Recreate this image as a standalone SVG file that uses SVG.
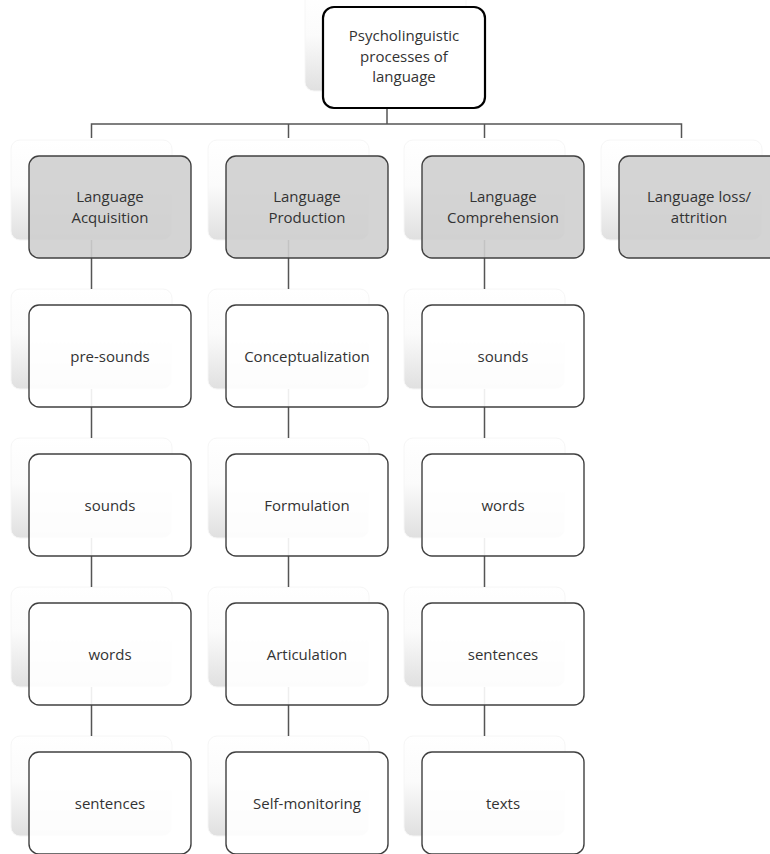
<svg xmlns="http://www.w3.org/2000/svg" width="770" height="854" viewBox="0 0 770 854">
<defs>
<linearGradient id="sh" x1="0" y1="0" x2="0" y2="1">
<stop offset="0" stop-color="#ffffff"/>
<stop offset="0.45" stop-color="#fbfbfb"/>
<stop offset="1" stop-color="#e0e0e0"/>
</linearGradient>
<style>
.shadow{fill:url(#sh);stroke:#f6f6f6;stroke-width:1}
.box{fill:#ffffff;fill-opacity:0.9;stroke:#404040;stroke-width:1.4}
.gray{fill:#cfcfcf;fill-opacity:0.9;stroke:#404040;stroke-width:1.4}
.top{fill:#ffffff;stroke:#000000;stroke-width:2.2}
.conn{stroke:#555555;stroke-width:1.5;fill:none}
text{font-family:"Open Sans","Liberation Sans",sans-serif;font-size:15px;fill:#333333;text-anchor:middle}
</style>
</defs>
<rect width="770" height="854" fill="#ffffff"/>

<g id="shadows">
<rect class="shadow" x="305" y="-9" width="161" height="100" rx="9"/>
<rect class="shadow" x="11" y="140" width="161" height="100" rx="9"/>
<rect class="shadow" x="208" y="140" width="161" height="100" rx="9"/>
<rect class="shadow" x="404" y="140" width="161" height="100" rx="9"/>
<rect class="shadow" x="601" y="140" width="161" height="100" rx="9"/>
<rect class="shadow" x="11" y="289" width="161" height="100" rx="9"/>
<rect class="shadow" x="208" y="289" width="161" height="100" rx="9"/>
<rect class="shadow" x="404" y="289" width="161" height="100" rx="9"/>
<rect class="shadow" x="11" y="438" width="161" height="100" rx="9"/>
<rect class="shadow" x="208" y="438" width="161" height="100" rx="9"/>
<rect class="shadow" x="404" y="438" width="161" height="100" rx="9"/>
<rect class="shadow" x="11" y="587" width="161" height="100" rx="9"/>
<rect class="shadow" x="208" y="587" width="161" height="100" rx="9"/>
<rect class="shadow" x="404" y="587" width="161" height="100" rx="9"/>
<rect class="shadow" x="11" y="736" width="161" height="100" rx="9"/>
<rect class="shadow" x="208" y="736" width="161" height="100" rx="9"/>
<rect class="shadow" x="404" y="736" width="161" height="100" rx="9"/>
</g>

<g id="connectors" class="conn">
<path d="M387 108V124"/>
<path d="M91.5 138V124H681.5V138"/>
<path d="M288.5 124V138"/>
<path d="M484.5 124V138"/>
<path d="M91.5 240V289M91.5 389V438M91.5 538V587M91.5 687V736"/>
<path d="M288.5 240V289M288.5 389V438M288.5 538V587M288.5 687V736"/>
<path d="M484.5 240V289M484.5 389V438M484.5 538V587M484.5 687V736"/>
</g>

<g id="root">
<rect class="top" x="323" y="7" width="162" height="101" rx="11"/>
<text x="404" y="41">Psycholinguistic</text>
<text x="404" y="61.5">processes of</text>
<text x="404" y="82">language</text>
</g>

<g id="acquisition">
<rect class="gray" x="29" y="156" width="162" height="102" rx="10"/>
<text x="110" y="202">Language</text>
<text x="110" y="222.5">Acquisition</text>
</g>
<g id="production">
<rect class="gray" x="226" y="156" width="162" height="102" rx="10"/>
<text x="307" y="202">Language</text>
<text x="307" y="222.5">Production</text>
</g>
<g id="comprehension">
<rect class="gray" x="422" y="156" width="162" height="102" rx="10"/>
<text x="503" y="202">Language</text>
<text x="503" y="222.5">Comprehension</text>
</g>
<g id="loss">
<rect class="gray" x="619" y="156" width="162" height="102" rx="10"/>
<text x="699" y="202">Language loss/</text>
<text x="699" y="222.5">attrition</text>
</g>

<g id="acq-presounds"><rect class="box" x="29" y="305" width="162" height="102" rx="10"/><text x="110" y="361.5">pre-sounds</text></g>
<g id="acq-sounds"><rect class="box" x="29" y="454" width="162" height="102" rx="10"/><text x="110" y="510.5">sounds</text></g>
<g id="acq-words"><rect class="box" x="29" y="603" width="162" height="102" rx="10"/><text x="110" y="659.5">words</text></g>
<g id="acq-sentences"><rect class="box" x="29" y="752" width="162" height="102" rx="10"/><text x="110" y="808.5">sentences</text></g>

<g id="prod-conceptualization"><rect class="box" x="226" y="305" width="162" height="102" rx="10"/><text x="307" y="361.5">Conceptualization</text></g>
<g id="prod-formulation"><rect class="box" x="226" y="454" width="162" height="102" rx="10"/><text x="307" y="510.5">Formulation</text></g>
<g id="prod-articulation"><rect class="box" x="226" y="603" width="162" height="102" rx="10"/><text x="307" y="659.5">Articulation</text></g>
<g id="prod-selfmonitoring"><rect class="box" x="226" y="752" width="162" height="102" rx="10"/><text x="307" y="808.5">Self-monitoring</text></g>

<g id="comp-sounds"><rect class="box" x="422" y="305" width="162" height="102" rx="10"/><text x="503" y="361.5">sounds</text></g>
<g id="comp-words"><rect class="box" x="422" y="454" width="162" height="102" rx="10"/><text x="503" y="510.5">words</text></g>
<g id="comp-sentences"><rect class="box" x="422" y="603" width="162" height="102" rx="10"/><text x="503" y="659.5">sentences</text></g>
<g id="comp-texts"><rect class="box" x="422" y="752" width="162" height="102" rx="10"/><text x="503" y="808.5">texts</text></g>
</svg>
